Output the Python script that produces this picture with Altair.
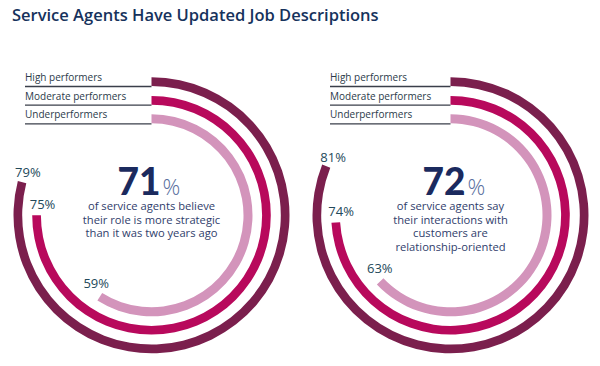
import altair as alt
import pandas as pd
import numpy as np

# ---- data ----
title = "Service Agents Have Updated Job Descriptions"
series = ["High performers", "Moderate performers", "Underperformers"]
panel_left_values = [79, 75, 59]
panel_right_values = [81, 74, 63]
headline = ["71", "72"]
subtitle_left = ["of service agents believe", "their role is more strategic", "than it was two years ago"]
subtitle_right = ["of service agents say", "their interactions with", "customers are", "relationship-oriented"]

# ---- layout (page pixel coordinates, converted to chart coordinates) ----
OX, OY = 8, 16  # chart origin on the page (page margin + top padding)
colors = ["#7b1f4d", "#b8095c", "#d394bb"]
ring_out = [138, 119.3, 101]
ring_in = [129.3, 110.6, 92]
centers = [(151.5 - OX, 215.3 - OY), (450.5 - OX, 215.3 - OY)]
legend_x0 = [25 - OX, 330 - OX]
split = [9.0, 15.0]

rows, lab_rows, txt_rows, rule_rows = [], [], [], []
for p, vals in enumerate([panel_left_values, panel_right_values]):
    cx, cy = centers[p]
    for i, (s, v) in enumerate(zip(series, vals)):
        t1 = v / 100 * 2 * np.pi
        rows.append(dict(panel=p, series=s, value=v, cx=cx, cy=cy, t0=0.0, t1=t1,
                         r_in=ring_in[i], r_out=ring_out[i]))
        rmid = (ring_in[i] + ring_out[i]) / 2
        ang = t1 + 10.5 / rmid
        rl = rmid - 3 - 2.5 * i
        lab_rows.append(dict(series=s, text=f"{v}%", x=cx + rl * np.sin(ang), y=cy - rl * np.cos(ang)))
        rule_rows.append(dict(series=s, x=legend_x0[p], x2=cx, y=cy - ring_in[i] + 0.5))
        txt_rows.append(dict(series=s, text=s, x=legend_x0[p], y=cy - ring_in[i] - 5))

df = pd.DataFrame(rows)
labs = pd.DataFrame(lab_rows)
rules = pd.DataFrame(rule_rows)
legtxt = pd.DataFrame(txt_rows)

big_rows, pct_rows, sub_rows = [], [], []
for p, (num, subs) in enumerate(zip(headline, [subtitle_left, subtitle_right])):
    cx, cy = centers[p]
    big_rows.append(dict(text=num, x=cx + split[p], y=cy - 20))
    pct_rows.append(dict(text="%", x=cx + split[p] + 2, y=cy - 20))
    for j, line in enumerate(subs):
        sub_rows.append(dict(text=line, x=cx, y=cy - 8.2 + 13.6 * j))
big = pd.DataFrame(big_rows)
pct = pd.DataFrame(pct_rows)
sub = pd.DataFrame(sub_rows)

X = lambda f="x": alt.X(f"{f}:Q", scale=None, axis=None)
Y = lambda f="y": alt.Y(f"{f}:Q", scale=None, axis=None)
cscale = alt.Scale(domain=series, range=colors)

arcs = alt.Chart(df).mark_arc().encode(
    x=X("cx"), y=Y("cy"),
    theta=alt.Theta("t0:Q", scale=None, stack=None), theta2="t1:Q",
    radius=alt.Radius("r_out:Q", scale=None), radius2="r_in:Q",
    color=alt.Color("series:N", scale=cscale, legend=None),
)

rule = alt.Chart(rules).mark_rule(color="#3a3f4a", strokeWidth=1.3).encode(
    x=X(), x2="x2:Q", y=Y()
)

leg = alt.Chart(legtxt).mark_text(align="left", baseline="alphabetic", font="Open Sans",
                                  fontSize=10, color="#2b3a4a").encode(
    x=X(), y=Y(), text="text:N"
)

pl = alt.Chart(labs).mark_text(align="center", baseline="middle", font="Open Sans",
                               fontSize=13, color="#23495a").encode(
    x=X(), y=Y(), text="text:N"
)

bignum = alt.Chart(big).mark_text(align="right", baseline="alphabetic", font="Lato",
                                  fontSize=37, fontWeight=900, color="#1b2a5e").encode(
    x=X(), y=Y(), text="text:N"
)
pctm = alt.Chart(pct).mark_text(align="left", baseline="alphabetic", font="Open Sans",
                                fontSize=22, fontWeight=300, color="#5a6f9e").encode(
    x=X(), y=Y(), text="text:N"
)
subt = alt.Chart(sub).mark_text(align="center", baseline="middle", font="Open Sans",
                                fontSize=11.2, color="#2f3d6b").encode(
    x=X(), y=Y(), text="text:N"
)

ttl = alt.Chart(pd.DataFrame([dict(text=title, x=12 - OX, y=20.5 - OY)])).mark_text(
    align="left", baseline="alphabetic", font="Open Sans", fontSize=16.5, fontWeight=600,
    color="#16325c").encode(x=X(), y=Y(), text="text:N")

chart = alt.layer(arcs, rule, leg, pl, bignum, pctm, subt, ttl).properties(
    width=584, height=342, autosize=alt.AutoSizeParams(type="none"),
    padding={"top": 8, "left": 0, "right": 0, "bottom": 0}
).configure_view(stroke=None, clip=False)

chart.save("out.html", embed_options={"renderer": "svg", "actions": False})
